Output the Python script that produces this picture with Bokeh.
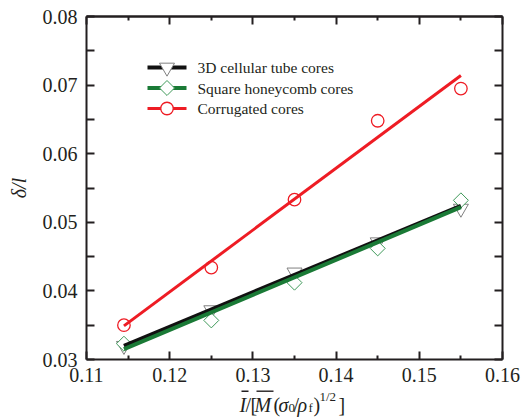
import math
from bokeh.plotting import figure
from bokeh.models import (Range1d, FixedTicker, LinearAxis, PrintfTickFormatter,
                          Label, BoxAnnotation)
from bokeh.embed import file_html
from bokeh.resources import INLINE

# ---------------- data ----------------
x_vals = [0.1145, 0.125, 0.135, 0.145, 0.155]
tube_pts = [0.0320, 0.0372, 0.0427, 0.0471, 0.0520]
honey_pts = [0.0323, 0.0357, 0.0412, 0.0462, 0.0532]
corr_pts = [0.0350, 0.0434, 0.0533, 0.0648, 0.0695]

fit_x = [0.1145, 0.155]
tube_fit = [0.0320, 0.0524]
honey_fit = [0.0315, 0.0522]
corr_fit = [0.0349, 0.0714]

series_names = ["3D cellular tube cores", "Square honeycomb cores", "Corrugated cores"]

x_ticks = [0.11, 0.12, 0.13, 0.14, 0.15, 0.16]
x_minor = [0.115, 0.125, 0.135, 0.145, 0.155]
y_ticks = [0.03, 0.04, 0.05, 0.06, 0.07, 0.08]
y_minor = [0.035, 0.045, 0.055, 0.065, 0.075]
X0, X1 = 0.11, 0.16
Y0, Y1 = 0.03, 0.08

# ---------------- layout / style ----------------
FONT = "Liberation Serif"
INK = "#231f20"
RED = "#ee1c24"
GREEN = "#1a7a36"
BLACK = "#111111"

W, H = 527, 417
PL, PR, PT, PB = 86, 502, 16, 359   # pixel box of the axes
KX = (X1 - X0) / (PR - PL)
KY = (Y1 - Y0) / (PB - PT)

def xd(px):
    return X0 + (px - PL) * KX

def yd(py):
    return Y0 + (PB - py) * KY

p = figure(width=W, height=H,
           x_range=Range1d(xd(0), xd(W)), y_range=Range1d(yd(H), yd(0)),
           output_backend="svg", toolbar_location=None,
           x_axis_location=None, y_axis_location=None,
           min_border=0, min_border_left=0, min_border_right=0,
           min_border_top=0, min_border_bottom=0)
p.xgrid.visible = False
p.ygrid.visible = False
p.outline_line_color = None
p.background_fill_color = "white"
p.border_fill_color = "white"


def make_axis(loc, bounds, major, minor, major_len, minor_len):
    ax = LinearAxis(fixed_location=loc, bounds=bounds)
    ax.ticker = FixedTicker(ticks=major, minor_ticks=minor)
    ax.formatter = PrintfTickFormatter(format="%.2f")
    ax.axis_line_color = INK
    ax.axis_line_width = 2
    ax.major_tick_line_color = INK
    ax.major_tick_line_width = 2
    ax.minor_tick_line_color = INK
    ax.minor_tick_line_width = 2
    ax.major_tick_in = major_len
    ax.major_tick_out = 0
    ax.minor_tick_in = minor_len
    ax.minor_tick_out = 0
    ax.major_label_text_font = FONT
    ax.major_label_text_color = INK
    ax.major_label_text_font_size = "20px"
    return ax

# bottom axis with labels
xb = make_axis(Y0, (X0, X1), x_ticks, x_minor, 8, 4)
xb.major_label_standoff = 8
p.add_layout(xb, "below")
# left axis with labels
yl = make_axis(X0, (Y0, Y1), y_ticks, y_minor, 8, 8)
yl.major_label_standoff = 9
yl.axis_label = "δ/l"
yl.axis_label_text_font = FONT
yl.axis_label_text_font_style = "italic"
yl.axis_label_text_font_size = "20px"
yl.axis_label_text_color = INK
yl.axis_label_standoff = 10
p.add_layout(yl, "left")
# top axis: ticks only (minor ticks carry no labels)
xt1 = make_axis(Y1, (X0, X1), [], x_ticks, 0, 8)
p.add_layout(xt1, "above")
xt2 = make_axis(Y1, (X0, X1), [], x_minor, 0, 4)
p.add_layout(xt2, "above")
# right axis: ticks only
yr = make_axis(X1, (Y0, Y1), [], sorted(y_ticks + y_minor), 0, 8)
p.add_layout(yr, "right")

# ---------------- marks ----------------
tri_style = dict(marker="inverted_triangle", size=15, fill_color="white",
                 line_color="#808080", line_width=1)
dia_style = dict(marker="square", angle=math.pi / 4, size=10.6, fill_color="white",
                 line_color="#3f9a5a", line_width=1)
cir_style = dict(marker="circle", size=12.5, fill_color="white", fill_alpha=0,
                 line_color=RED, line_width=1.3)

p.scatter(x_vals, tube_pts, **tri_style)
p.scatter(x_vals, honey_pts, **dia_style)
p.scatter(x_vals, corr_pts, **cir_style)

p.line(fit_x, tube_fit, line_color=BLACK, line_width=4)
p.line(fit_x, honey_fit, line_color=GREEN, line_width=4)
p.line(fit_x, corr_fit, line_color=RED, line_width=3)

# ---------------- legend (keys + labels) ----------------
LEG_X0, LEG_X1, LEG_TX = 147, 186, 197
LEG_ROWS = [67, 87.5, 108]
key_lines = [(BLACK, 4), (GREEN, 4), (RED, 3)]
key_marks = [dict(tri_style), dict(dia_style, fill_alpha=1), dict(cir_style, fill_alpha=1)]
for name, row, (lc, lw), mk in zip(series_names, LEG_ROWS, key_lines, key_marks):
    p.line([xd(LEG_X0), xd(LEG_X1)], [yd(row), yd(row)], line_color=lc, line_width=lw)
    p.scatter([xd((LEG_X0 + LEG_X1) / 2)], [yd(row)], **mk)
    p.add_layout(Label(x=xd(LEG_TX), y=yd(row), text=name, text_font=FONT,
                       text_font_size="15.5px", text_color=INK,
                       text_align="left", text_baseline="middle"))

# ---------------- x axis label (composed) ----------------
BASE = 404
pieces = [
    # text, left px, baseline px, size, style
    ("I", 239, BASE, 20, "italic"),
    ("/", 245, BASE, 20, "normal"),
    ("[", 250, BASE, 20, "normal"),
    ("M", 254, BASE, 20, "italic"),
    ("(", 273, BASE, 20, "normal"),
    ("σ", 278, BASE, 20, "italic"),
    ("0", 288, BASE + 3, 13, "normal"),
    ("/", 293, BASE, 20, "normal"),
    ("ρ", 297, BASE, 20, "italic"),
    ("f", 308, BASE + 3, 13, "normal"),
    (")", 313, BASE, 20, "normal"),
    ("1/2", 319, BASE - 8, 13, "normal"),
    ("]", 338, BASE, 20, "normal"),
]
for t, px, py, sz, st in pieces:
    p.add_layout(Label(x=xd(px), y=yd(py), text=t, text_font=FONT,
                       text_font_size=f"{sz}px", text_font_style=st,
                       text_color=INK, text_align="left", text_baseline="alphabetic"))

for lpx, rpx in [(241, 248), (256, 273)]:
    p.add_layout(BoxAnnotation(left=xd(lpx), right=xd(rpx), top=yd(390), bottom=yd(391.4),
                               fill_color=INK, fill_alpha=1, line_color=None))

open("out.html", "w").write(file_html(p, INLINE))
